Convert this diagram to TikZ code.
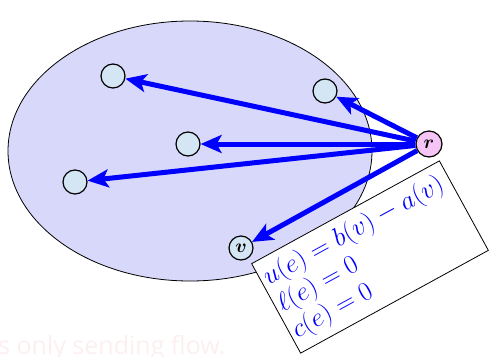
\documentclass[tikz,border=0pt]{standalone}
\usepackage{fontspec}
\usepackage{graphicx}
\usepackage{bm}
\usetikzlibrary{arrows.meta}
\newfontfamily\faintfont{Open Sans}
\definecolor{elfill}{HTML}{D8D8FA}
\definecolor{vfill}{HTML}{D4E6F4}
\definecolor{rfill}{HTML}{F5C6F5}
\definecolor{faintc}{HTML}{FCEFEF}
\newcommand{\boxmath}[1]{\scalebox{1.07}{$#1$}}
\begin{document}
\begin{tikzpicture}[x=1pt,y=1pt,
  vert/.style={circle,draw,line width=1.2pt,fill=vfill,minimum size=24pt,inner sep=0pt},
  flow/.style={blue,line width=5pt,-{Stealth[length=21pt,width=18pt,inset=5pt]}},
  infobox/.style={draw,line width=0.8pt,fill=white,rotate=28.7,minimum width=214pt,minimum height=102pt,
    text width=206pt,inner xsep=4pt,align=left,text=blue,font=\fontsize{24.88}{30}\selectfont}]
\useasboundingbox (0,0) rectangle (489,-356);
\node[anchor=base west,text=faintc,font=\faintfont\fontsize{25}{29}\selectfont,inner sep=0pt] (faint) at (-2,-354) {s only sending flow.};
\draw[line width=0.8pt,fill=elfill] (190,-151) ellipse [x radius=182, y radius=130];
\node[vert] (n1) at (113,-76) {};
\node[vert] (n2) at (325,-91) {};
\node[vert] (n3) at (188,-144) {};
\node[vert] (n4) at (75,-182) {};
\node[vert] (v) at (241,-248) {\scalebox{1.9}{$\bm{v}$}};
\node[vert,fill=rfill,minimum size=26pt] (r) at (429,-144) {\scalebox{1.9}{$\bm{r}$}};
\draw[flow] (r) -- (n1);
\draw[flow] (r) -- (n2);
\draw[flow] (r) -- (n3);
\draw[flow] (r) -- (n4);
\draw[flow] (r) -- (v);
\node[infobox] (box) at (370,-257) {\boxmath{u(e) = b(v) - a(v)}\\ \boxmath{\ell(e) = 0}\\ \boxmath{c(e) = 0}};
\end{tikzpicture}
\end{document}
